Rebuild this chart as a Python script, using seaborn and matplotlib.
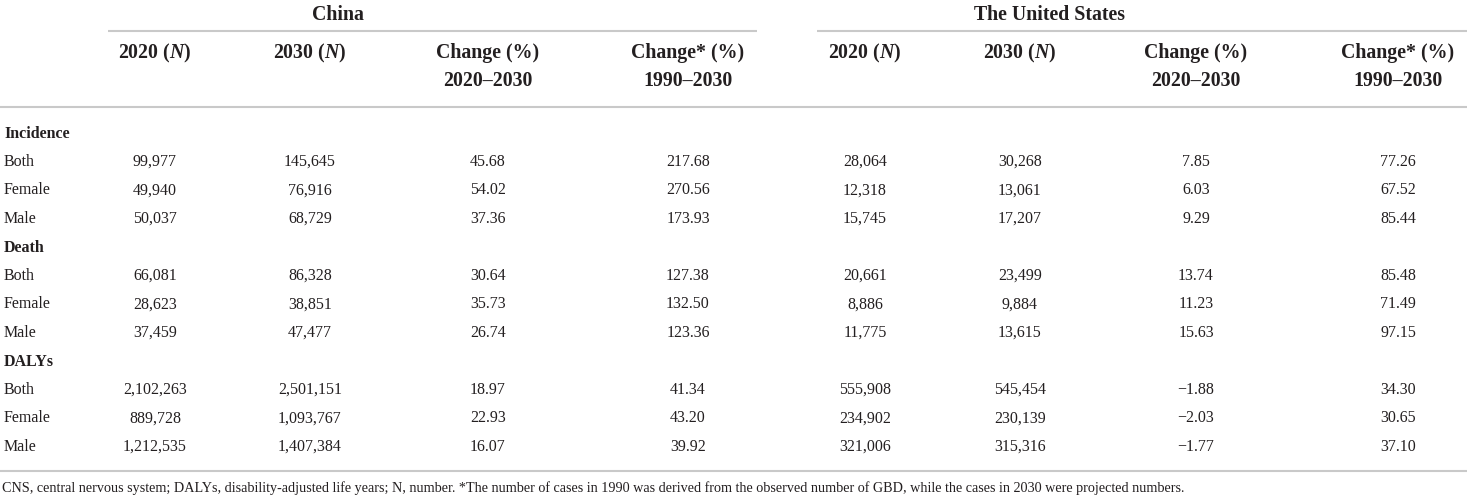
import matplotlib
matplotlib.use("Agg")
import matplotlib.pyplot as plt
import seaborn as sns

# ---------------- data ----------------
countries = ["China", "The United States"]
col_headers = [r"2020 ($\mathit{N}$)", r"2030 ($\mathit{N}$)",
               "Change (%)\n2020\u20132030", "Change* (%)\n1990\u20132030"]
sections = ["Incidence", "Death", "DALYs"]
groups = ["Both", "Female", "Male"]

china_2020 = ["99,977", "49,940", "50,037", "66,081", "28,623", "37,459",
              "2,102,263", "889,728", "1,212,535"]
china_2030 = ["145,645", "76,916", "68,729", "86,328", "38,851", "47,477",
              "2,501,151", "1,093,767", "1,407,384"]
china_chg = ["45.68", "54.02", "37.36", "30.64", "35.73", "26.74",
             "18.97", "22.93", "16.07"]
china_chg90 = ["217.68", "270.56", "173.93", "127.38", "132.50", "123.36",
               "41.34", "43.20", "39.92"]
us_2020 = ["28,064", "12,318", "15,745", "20,661", "8,886", "11,775",
           "555,908", "234,902", "321,006"]
us_2030 = ["30,268", "13,061", "17,207", "23,499", "9,884", "13,615",
           "545,454", "230,139", "315,316"]
us_chg = ["7.85", "6.03", "9.29", "13.74", "11.23", "15.63",
          "\u22121.88", "\u22122.03", "\u22121.77"]
us_chg90 = ["77.26", "67.52", "85.44", "85.48", "71.49", "97.15",
            "34.30", "30.65", "37.10"]

footnote = ("CNS, central nervous system; DALYs, disability-adjusted life years; N, number. "
            "*The number of cases in 1990 was derived from the observed number of GBD, "
            "while the cases in 2030 were projected numbers.")

# ---------------- style ----------------
sns.set_theme(style="white")
plt.rcParams["font.family"] = ["Liberation Serif", "DejaVu Serif"]
plt.rcParams["mathtext.fontset"] = "custom"
plt.rcParams["mathtext.it"] = "Liberation Serif:italic:bold"
plt.rcParams["mathtext.rm"] = "Liberation Serif:bold"

TXT = "#231f20"
LINE = "#c9c9c9"
W, H = 1471, 500

fig = plt.figure(figsize=(W / 100, H / 100), dpi=100)
ax = fig.add_axes([0, 0, 1, 1])
ax.set_xlim(0, W)
ax.set_ylim(H, 0)
ax.axis("off")

col_x = [155, 310, 488, 688, 865, 1020, 1196, 1398]
title_x = [338, 1050]
row_y0, row_dy = 132, 28.5
hdr_fs, body_fs = 14.3, 11.5
bl = 5.5  # baseline offset from visual centre (px)

# titles
for name, x in zip(countries, title_x):
    ax.text(x, 14 + 6, name, ha="center", va="baseline", fontsize=hdr_fs,
            fontweight="bold", color=TXT)
# spanner lines
ax.hlines(31, 108, 757, color=LINE, lw=1.5)
ax.hlines(31, 817, 1467, color=LINE, lw=1.5)

# column headers
for i, x in enumerate(col_x):
    h = col_headers[i % 4]
    for j, ln in enumerate(h.split("\n")):
        ax.text(x, 52 + 28 * j + 6, ln, ha="center", va="baseline",
                fontsize=hdr_fs, fontweight="bold", color=TXT)

ax.hlines(107, 0, 1467, color=LINE, lw=1.5)

# body
columns = [china_2020, china_2030, china_chg, china_chg90,
           us_2020, us_2030, us_chg, us_chg90]
r = 0
for s, sec in enumerate(sections):
    ax.text(4, row_y0 + row_dy * r + bl, sec, ha="left", va="baseline",
            fontsize=body_fs, fontweight="bold", color=TXT)
    r += 1
    for g, grp in enumerate(groups):
        y = row_y0 + row_dy * r + bl
        ax.text(4, y, grp, ha="left", va="baseline", fontsize=body_fs, color=TXT)
        k = s * 3 + g
        for x, col in zip(col_x, columns):
            ax.text(x, y, col[k], ha="center", va="baseline", fontsize=body_fs,
                    color=TXT)
        r += 1

ax.hlines(471, 0, 1467, color=LINE, lw=1.5)
ax.text(2, 487 + 5, footnote, ha="left", va="baseline", fontsize=10.2, color=TXT)

fig.savefig("out.png", dpi=100)
